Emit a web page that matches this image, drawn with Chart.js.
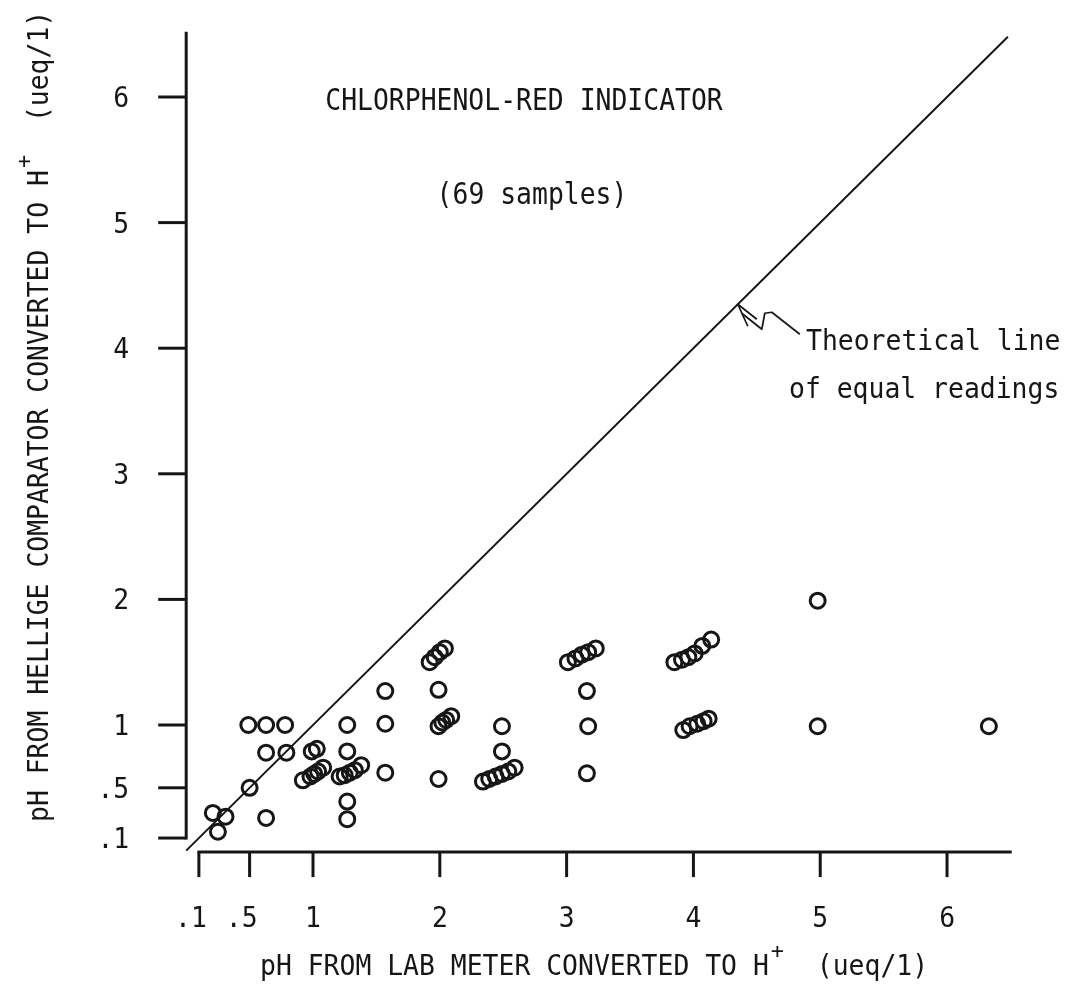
<!DOCTYPE html>
<html>
<head>
<meta charset="utf-8">
<script src="https://cdn.jsdelivr.net/npm/chart.js@4.4.1/dist/chart.umd.min.js"></script>
<style>
  html, body { margin: 0; padding: 0; background: #fff; }
  canvas { display: block; }
</style>
</head>
<body>
<canvas id="hydrogenChart" width="1068" height="988"></canvas>
<script>
// H+ (ueq/l) from the lab meter vs. from the Hellige comparator
const labMeter = [
	0.21, 0.31, 0.25,
	0.49, 0.63, 0.78, 0.63, 0.79, 0.5, 0.63,
	0.92, 0.98, 1.01, 1.04, 1.08, 0.99, 1.03,
	1.27, 1.27, 1.21, 1.25, 1.29, 1.33, 1.38, 1.27, 1.27,
	1.57, 1.57, 1.57,
	1.92, 1.96, 2.0, 2.04, 1.99, 1.99, 2.02, 2.05, 2.09, 1.99,
	2.49, 2.49, 2.34, 2.39, 2.44, 2.49, 2.54, 2.59,
	3.01, 3.07, 3.12, 3.17, 3.23, 3.16, 3.17, 3.16,
	3.85, 3.91, 3.96, 4.01, 4.07, 4.14, 3.92, 3.97, 4.03, 4.08, 4.12,
	4.98, 4.98, 6.33,
]
const comparator = [
	0.3, 0.27, 0.15,
	1.0, 1.0, 1.0, 0.78, 0.78, 0.5, 0.26,
	0.56, 0.59, 0.61, 0.63, 0.66, 0.79, 0.81,
	1.0, 0.79, 0.59, 0.6, 0.62, 0.64, 0.68, 0.39, 0.25,
	1.27, 1.01, 0.62,
	1.5, 1.54, 1.58, 1.61, 1.28, 0.99, 1.02, 1.04, 1.07, 0.57,
	0.99, 0.79, 0.55, 0.57, 0.59, 0.61, 0.63, 0.66,
	1.5, 1.53, 1.56, 1.58, 1.61, 1.27, 0.99, 0.615,
	1.5, 1.52, 1.54, 1.57, 1.63, 1.68, 0.96, 0.99, 1.01, 1.03, 1.05,
	1.99, 0.99, 0.99,
]

const xTickValues = [0.1, 0.5, 1, 2, 3, 4, 5, 6]
const xTickLabels = ['.1', '.5', '1', '2', '3', '4', '5', '6']
const yTickValues = [0.1, 0.5, 1, 2, 3, 4, 5, 6]
const yTickLabels = ['.1', '.5', '1', '2', '3', '4', '5', '6']

// y = x reference line and where the note arrow touches it
const equalLine = [0, 6.48]
const arrowAt = 4.35

const INK = '#161616'
const FONT = '"DejaVu Sans Mono", "Liberation Mono", monospace'
const CHAR_W = 15.9

// typewriter style text, squeezed to a fixed pitch
function typeText(ctx, text, x, y, size, align) {
	ctx.font = size + 'px ' + FONT
	ctx.textAlign = align || 'left'
	ctx.textBaseline = 'alphabetic'
	ctx.fillText(text, x, y, text.length * CHAR_W)
}

// axis title with the H+ superscript and the unit after it
function unitTitle(ctx, main, x, y, rotate) {
	ctx.save()
	ctx.translate(x, y)
	if (rotate) ctx.rotate(-Math.PI / 2)
	const w = main.length * CHAR_W
	typeText(ctx, main, 0, 0, 29)
	typeText(ctx, '+', w + 2, -17, 22)
	typeText(ctx, '(ueq/1)', w + 48, 0, 29)
	ctx.restore()
}

const paperPlugin = {
	id: 'paper',
	beforeDraw(chart) {
		const ctx = chart.ctx
		ctx.save()
		ctx.fillStyle = '#fff'
		ctx.fillRect(0, 0, chart.width, chart.height)
		ctx.restore()
	},
	afterDatasetsDraw(chart) {
		const ctx = chart.ctx
		const xs = chart.scales.x
		const ys = chart.scales.y
		const area = chart.chartArea
		const x0 = xs.getPixelForValue(0)
		const y0 = ys.getPixelForValue(0)

		ctx.save()
		ctx.strokeStyle = INK
		ctx.fillStyle = INK
		ctx.lineWidth = 3
		ctx.lineCap = 'butt'

		// y axis: runs from the .1 tick up to the top
		const yBottom = ys.getPixelForValue(yTickValues[0])
		ctx.beginPath()
		ctx.moveTo(x0, yBottom + 1.5)
		ctx.lineTo(x0, area.top)
		ctx.stroke()
		yTickValues.forEach((v, i) => {
			const py = ys.getPixelForValue(v)
			ctx.beginPath()
			ctx.moveTo(x0 - 28, py)
			ctx.lineTo(x0, py)
			ctx.stroke()
			typeText(ctx, yTickLabels[i], x0 - 57, py + 10, 28, 'right')
		})

		// x axis: starts at the .1 tick
		const xLeft = xs.getPixelForValue(xTickValues[0])
		const axisY = y0 + 1.5
		ctx.beginPath()
		ctx.moveTo(xLeft - 1.5, axisY)
		ctx.lineTo(area.right, axisY)
		ctx.stroke()
		xTickValues.forEach((v, i) => {
			const px = xs.getPixelForValue(v)
			ctx.beginPath()
			ctx.moveTo(px, axisY)
			ctx.lineTo(px, axisY + 25)
			ctx.stroke()
			typeText(ctx, xTickLabels[i], px + 8, axisY + 75, 28, 'right')
		})

		// axis titles
		unitTitle(ctx, 'pH FROM LAB METER CONVERTED TO H', 260, 975, false)
		unitTitle(ctx, 'pH FROM HELLIGE COMPARATOR CONVERTED TO H', 48, 822, true)

		// notes inside the plot
		typeText(ctx, 'CHLORPHENOL-RED INDICATOR', 524, 110, 30, 'center')
		typeText(ctx, '(69 samples)', 532, 204, 30, 'center')
		typeText(ctx, 'Theoretical line', 806, 350, 29, 'left')
		typeText(ctx, 'of equal readings', 789, 398, 29, 'left')

		// squiggly arrow pointing at the equal-readings line
		const ax = xs.getPixelForValue(arrowAt)
		const ay = ys.getPixelForValue(arrowAt)
		ctx.lineWidth = 1.7
		ctx.lineJoin = 'round'
		ctx.beginPath()
		ctx.moveTo(ax + 10, ay + 22)
		ctx.lineTo(ax, ay)
		ctx.lineTo(ax + 19, ay + 15)
		ctx.stroke()
		ctx.beginPath()
		ctx.moveTo(ax + 4, ay + 9)
		ctx.lineTo(ax + 24, ay + 25)
		ctx.lineTo(ax + 27, ay + 9)
		ctx.lineTo(ax + 34, ay + 8)
		ctx.lineTo(ax + 62, ay + 30)
		ctx.stroke()
		ctx.restore()
	},
}

const points = labMeter.map((x, i) => ({ x: x, y: comparator[i] }))

new Chart(document.getElementById('hydrogenChart'), {
	type: 'scatter',
	data: {
		datasets: [
			{
				label: 'samples',
				data: points,
				pointStyle: 'circle',
				pointRadius: 7.5,
				pointBorderWidth: 3,
				borderColor: INK,
				backgroundColor: 'rgba(0,0,0,0)',
			},
			{
				label: 'equal readings',
				data: equalLine.map((v) => ({ x: v, y: v })),
				showLine: true,
				pointRadius: 0,
				borderColor: INK,
				borderWidth: 2,
				clip: false,
			},
		],
	},
	options: {
		responsive: false,
		animation: false,
		devicePixelRatio: 1,
		layout: {
			padding: { left: 186.2, right: 56.3, top: 31.7, bottom: 137.4 },
		},
		scales: {
			x: { type: 'linear', min: 0, max: 6.51, display: false },
			y: { type: 'linear', min: 0, max: 6.52, display: false },
		},
		plugins: {
			legend: { display: false },
			tooltip: { enabled: false },
		},
	},
	plugins: [paperPlugin],
})
</script>
</body>
</html>
